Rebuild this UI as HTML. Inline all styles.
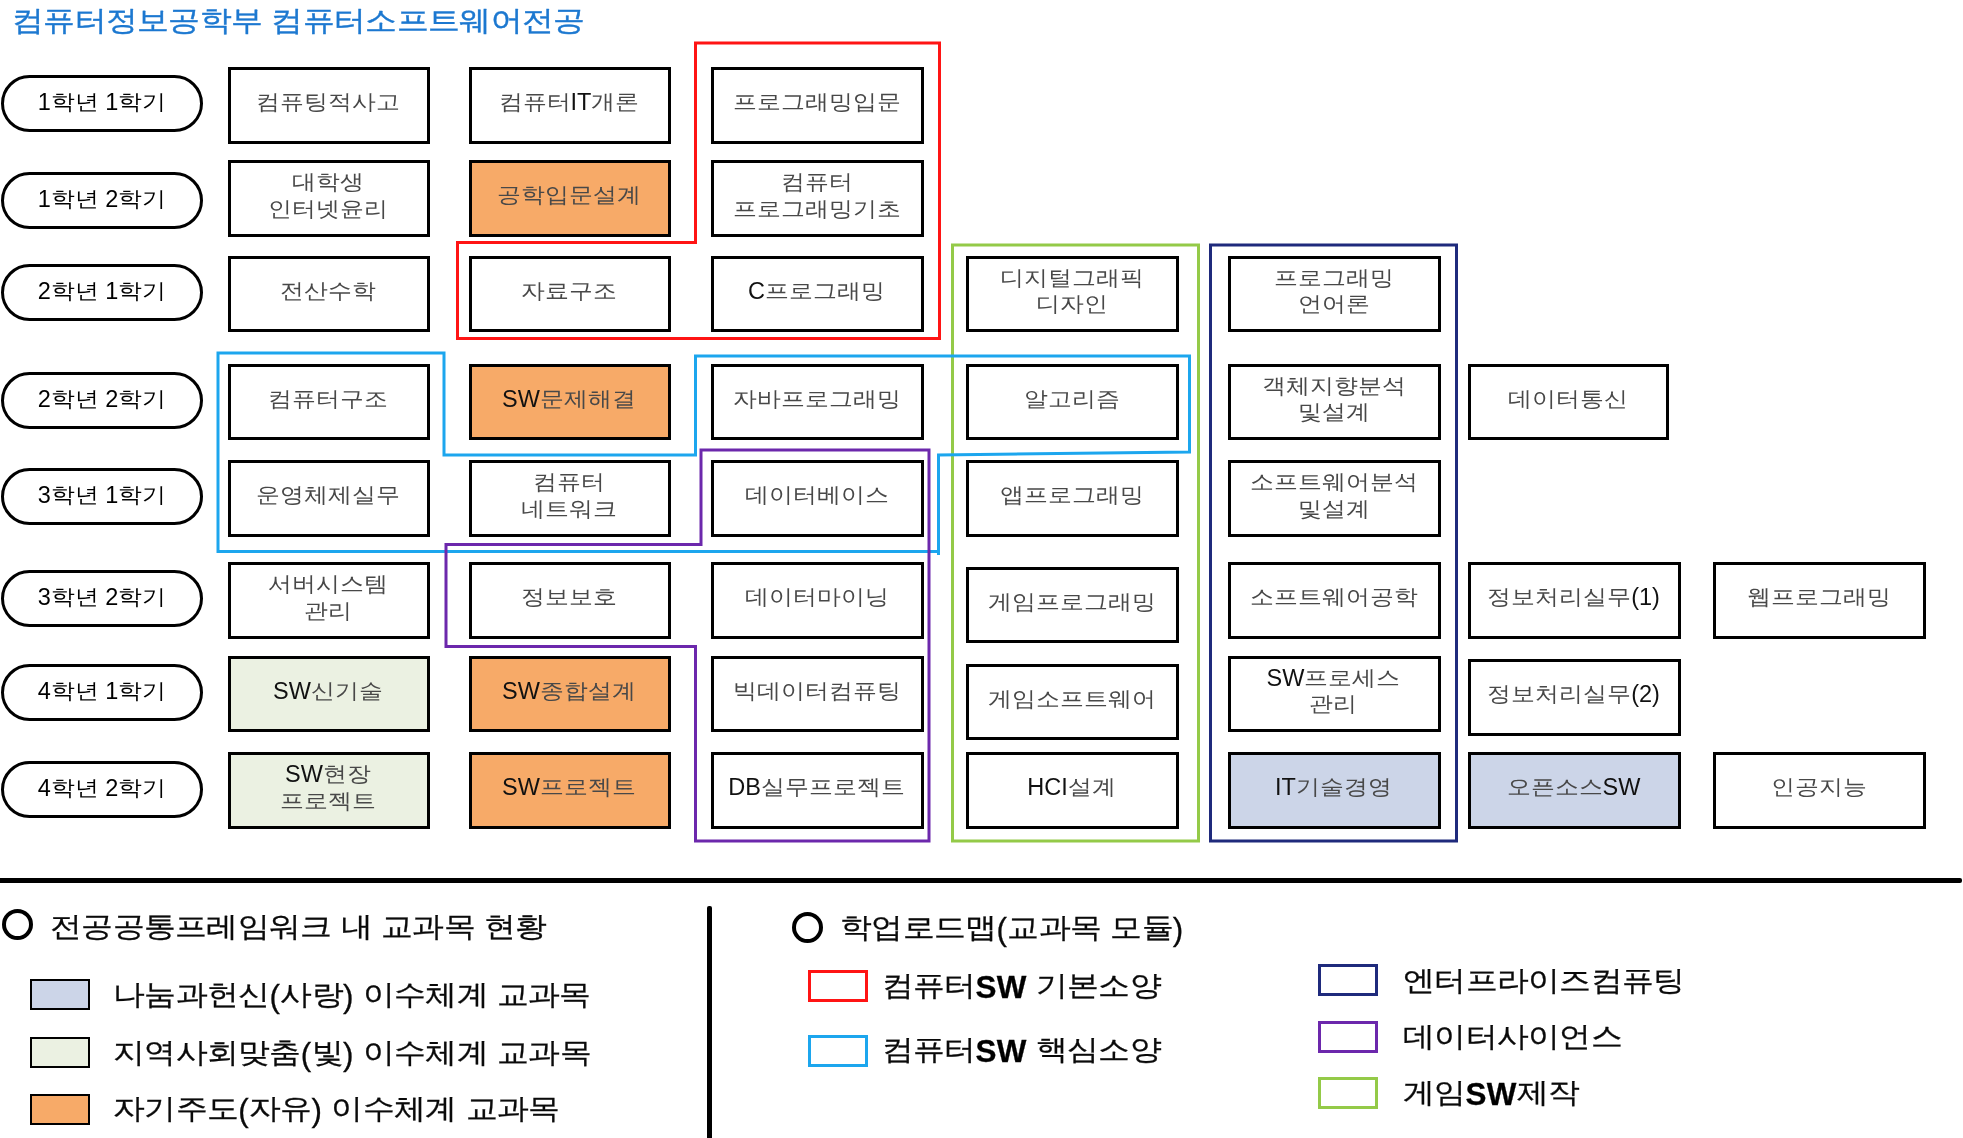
<!DOCTYPE html>
<html lang="ko"><head><meta charset="utf-8"><title>컴퓨터정보공학부 컴퓨터소프트웨어전공</title>
<style>
*{margin:0;padding:0;box-sizing:border-box}
html,body{width:1963px;height:1138px;background:#fff;overflow:hidden}
body{position:relative;font-family:"Liberation Sans",sans-serif;color:#111;filter:blur(.55px)}
.k{display:inline-block;transform:scaleY(.88);transform-origin:50% 58%}
.h .k,.l .k{transform:translateY(-2px) scaleY(.88)}
.t{position:absolute;left:12px;top:2px;font-size:31.3px;letter-spacing:.3px;line-height:38px;color:#1c78d0;-webkit-text-stroke:.45px #1c78d0;white-space:nowrap}
.b{position:absolute;border:3px solid #000;display:flex;align-items:center;justify-content:center;text-align:center;font-size:23.5px;line-height:26.5px;white-space:nowrap;padding:0 2px 6px 0}
.b.m{padding-bottom:6px}
.b .k{color:#484848}
.p{position:absolute;left:1px;width:202px;height:57px;border:3px solid #000;border-radius:29px;display:flex;align-items:center;justify-content:center;font-size:23.5px;color:#000;white-space:nowrap;padding-bottom:4px}
svg{position:absolute;left:0;top:0}
.h,.l{position:absolute;font-size:31.4px;letter-spacing:.3px;line-height:36px;white-space:nowrap;color:#0a0a0a;-webkit-text-stroke:.3px #0a0a0a}
.s{position:absolute;width:60px;height:31px;border:2px solid #000}
.o{position:absolute;width:31px;height:31px;border:4.5px solid #000;border-radius:50%}
b{color:#000}
</style></head>
<body>
<div class="t"><span class="k">컴퓨터정보공학부</span> <span class="k">컴퓨터소프트웨어전공</span></div>
<div class="p" style="top:75px"><span>1<span class="k">학년</span> 1<span class="k">학기</span></span></div>
<div class="p" style="top:172px"><span>1<span class="k">학년</span> 2<span class="k">학기</span></span></div>
<div class="p" style="top:264px"><span>2<span class="k">학년</span> 1<span class="k">학기</span></span></div>
<div class="p" style="top:372px"><span>2<span class="k">학년</span> 2<span class="k">학기</span></span></div>
<div class="p" style="top:468px"><span>3<span class="k">학년</span> 1<span class="k">학기</span></span></div>
<div class="p" style="top:570px"><span>3<span class="k">학년</span> 2<span class="k">학기</span></span></div>
<div class="p" style="top:664px"><span>4<span class="k">학년</span> 1<span class="k">학기</span></span></div>
<div class="p" style="top:761px"><span>4<span class="k">학년</span> 2<span class="k">학기</span></span></div>
<div class="b" style="left:228px;top:67px;width:202px;height:77px"><span><span class="k">컴퓨팅적사고</span></span></div>
<div class="b" style="left:469px;top:67px;width:202px;height:77px"><span><span class="k">컴퓨터</span>IT<span class="k">개론</span></span></div>
<div class="b" style="left:711px;top:67px;width:213px;height:77px"><span><span class="k">프로그래밍입문</span></span></div>
<div class="b m" style="left:228px;top:160px;width:202px;height:77px"><span><span class="k">대학생</span><br><span class="k">인터넷윤리</span></span></div>
<div class="b" style="left:469px;top:160px;width:202px;height:77px;background:#f7aa68"><span><span class="k">공학입문설계</span></span></div>
<div class="b m" style="left:711px;top:160px;width:213px;height:77px"><span><span class="k">컴퓨터</span><br><span class="k">프로그래밍기초</span></span></div>
<div class="b" style="left:228px;top:256px;width:202px;height:76px"><span><span class="k">전산수학</span></span></div>
<div class="b" style="left:469px;top:256px;width:202px;height:76px"><span><span class="k">자료구조</span></span></div>
<div class="b" style="left:711px;top:256px;width:213px;height:76px"><span>C<span class="k">프로그래밍</span></span></div>
<div class="b m" style="left:966px;top:256px;width:213px;height:76px"><span><span class="k">디지털그래픽</span><br><span class="k">디자인</span></span></div>
<div class="b m" style="left:1228px;top:256px;width:213px;height:76px"><span><span class="k">프로그래밍</span><br><span class="k">언어론</span></span></div>
<div class="b" style="left:228px;top:364px;width:202px;height:76px"><span><span class="k">컴퓨터구조</span></span></div>
<div class="b" style="left:469px;top:364px;width:202px;height:76px;background:#f7aa68"><span>SW<span class="k">문제해결</span></span></div>
<div class="b" style="left:711px;top:364px;width:213px;height:76px"><span><span class="k">자바프로그래밍</span></span></div>
<div class="b" style="left:966px;top:364px;width:213px;height:76px"><span><span class="k">알고리즘</span></span></div>
<div class="b m" style="left:1228px;top:364px;width:213px;height:76px"><span><span class="k">객체지향분석</span><br><span class="k">및설계</span></span></div>
<div class="b" style="left:1468px;top:364px;width:201px;height:76px"><span><span class="k">데이터통신</span></span></div>
<div class="b" style="left:228px;top:460px;width:202px;height:77px"><span><span class="k">운영체제실무</span></span></div>
<div class="b m" style="left:469px;top:460px;width:202px;height:77px"><span><span class="k">컴퓨터</span><br><span class="k">네트워크</span></span></div>
<div class="b" style="left:711px;top:460px;width:213px;height:77px"><span><span class="k">데이터베이스</span></span></div>
<div class="b" style="left:966px;top:460px;width:213px;height:77px"><span><span class="k">앱프로그래밍</span></span></div>
<div class="b m" style="left:1228px;top:460px;width:213px;height:77px"><span><span class="k">소프트웨어분석</span><br><span class="k">및설계</span></span></div>
<div class="b m" style="left:228px;top:562px;width:202px;height:77px"><span><span class="k">서버시스템</span><br><span class="k">관리</span></span></div>
<div class="b" style="left:469px;top:562px;width:202px;height:77px"><span><span class="k">정보보호</span></span></div>
<div class="b" style="left:711px;top:562px;width:213px;height:77px"><span><span class="k">데이터마이닝</span></span></div>
<div class="b" style="left:966px;top:567px;width:213px;height:76px"><span><span class="k">게임프로그래밍</span></span></div>
<div class="b" style="left:1228px;top:562px;width:213px;height:77px"><span><span class="k">소프트웨어공학</span></span></div>
<div class="b" style="left:1468px;top:562px;width:213px;height:77px"><span><span class="k">정보처리실무</span>(1)</span></div>
<div class="b" style="left:1713px;top:562px;width:213px;height:77px"><span><span class="k">웹프로그래밍</span></span></div>
<div class="b" style="left:228px;top:656px;width:202px;height:76px;background:#ebf1e2"><span>SW<span class="k">신기술</span></span></div>
<div class="b" style="left:469px;top:656px;width:202px;height:76px;background:#f7aa68"><span>SW<span class="k">종합설계</span></span></div>
<div class="b" style="left:711px;top:656px;width:213px;height:76px"><span><span class="k">빅데이터컴퓨팅</span></span></div>
<div class="b" style="left:966px;top:664px;width:213px;height:76px"><span><span class="k">게임소프트웨어</span></span></div>
<div class="b m" style="left:1228px;top:656px;width:213px;height:76px"><span>SW<span class="k">프로세스</span><br><span class="k">관리</span></span></div>
<div class="b" style="left:1468px;top:659px;width:213px;height:77px"><span><span class="k">정보처리실무</span>(2)</span></div>
<div class="b m" style="left:228px;top:752px;width:202px;height:77px;background:#ebf1e2"><span>SW<span class="k">현장</span><br><span class="k">프로젝트</span></span></div>
<div class="b" style="left:469px;top:752px;width:202px;height:77px;background:#f7aa68"><span>SW<span class="k">프로젝트</span></span></div>
<div class="b" style="left:711px;top:752px;width:213px;height:77px"><span>DB<span class="k">실무프로젝트</span></span></div>
<div class="b" style="left:966px;top:752px;width:213px;height:77px"><span>HCI<span class="k">설계</span></span></div>
<div class="b" style="left:1228px;top:752px;width:213px;height:77px;background:#ccd5e8"><span>IT<span class="k">기술경영</span></span></div>
<div class="b" style="left:1468px;top:752px;width:213px;height:77px;background:#ccd5e8"><span><span class="k">오픈소스</span>SW</span></div>
<div class="b" style="left:1713px;top:752px;width:213px;height:77px"><span><span class="k">인공지능</span></span></div>
<svg width="1963" height="1138" viewBox="0 0 1963 1138" fill="none" stroke-width="3" stroke-linejoin="miter"><path stroke="#94ca48" d="M952.5 245H1198.5V841H952.5Z"/><path stroke="#1ca6ee" d="M218 353H444V455H695.5V356H1189.5V452L938.5 455V555V551.5H218Z"/><path stroke="#ff1414" d="M695.5 43H939.5V338.5H457.5V242.5H695.5Z"/><path stroke="#6c28ac" d="M701 450H929V841H695.5V646.5H446V544.5H701Z"/><path stroke="#1f2a7c" d="M1210.5 245H1456.5V841H1210.5Z"/></svg>
<div style="position:absolute;left:0;top:878px;width:1962px;height:5px;background:#000;border-radius:0 2px 2px 0"></div>
<div style="position:absolute;left:707px;top:906px;width:5px;height:232px;background:#000;border-radius:2px 2px 0 0"></div>
<div class="o" style="left:2px;top:909px"></div>
<div class="h" style="left:50px;top:910.5px"><span class="k">전공공통프레임워크</span> <span class="k">내</span> <span class="k">교과목</span> <span class="k">현황</span></div>
<div class="s" style="left:30px;top:979px;background:#ccd5e8"></div>
<div class="l" style="left:113px;top:979px"><span class="k">나눔과헌신</span>(<span class="k">사랑</span>) <span class="k">이수체계</span> <span class="k">교과목</span></div>
<div class="s" style="left:30px;top:1037px;background:#ebf1e2"></div>
<div class="l" style="left:113px;top:1037px"><span class="k">지역사회맞춤</span>(<span class="k">빛</span>) <span class="k">이수체계</span> <span class="k">교과목</span></div>
<div class="s" style="left:30px;top:1094px;background:#f7aa68"></div>
<div class="l" style="left:113px;top:1093px"><span class="k">자기주도</span>(<span class="k">자유</span>) <span class="k">이수체계</span> <span class="k">교과목</span></div>
<div class="o" style="left:792px;top:912px"></div>
<div class="h" style="left:840px;top:912px"><span class="k">학업로드맵</span>(<span class="k">교과목</span> <span class="k">모듈</span>)</div>
<div class="s" style="left:808px;top:970px;height:32px;border:3px solid #ff1414"></div>
<div class="l" style="left:881.5px;top:970px"><span class="k">컴퓨터</span><b>SW</b> <span class="k">기본소양</span></div>
<div class="s" style="left:808px;top:1035px;height:32px;border:3px solid #1ca6ee"></div>
<div class="l" style="left:881.5px;top:1034px"><span class="k">컴퓨터</span><b>SW</b> <span class="k">핵심소양</span></div>
<div class="s" style="left:1318px;top:964px;height:32px;border:3px solid #1f2a7c"></div>
<div class="l" style="left:1403px;top:964.5px"><span class="k">엔터프라이즈컴퓨팅</span></div>
<div class="s" style="left:1318px;top:1021px;height:32px;border:3px solid #6c28ac"></div>
<div class="l" style="left:1403px;top:1020.5px"><span class="k">데이터사이언스</span></div>
<div class="s" style="left:1318px;top:1077px;height:32px;border:3px solid #94ca48"></div>
<div class="l" style="left:1403px;top:1077px"><span class="k">게임</span><b>SW</b><span class="k">제작</span></div>
</body></html>
